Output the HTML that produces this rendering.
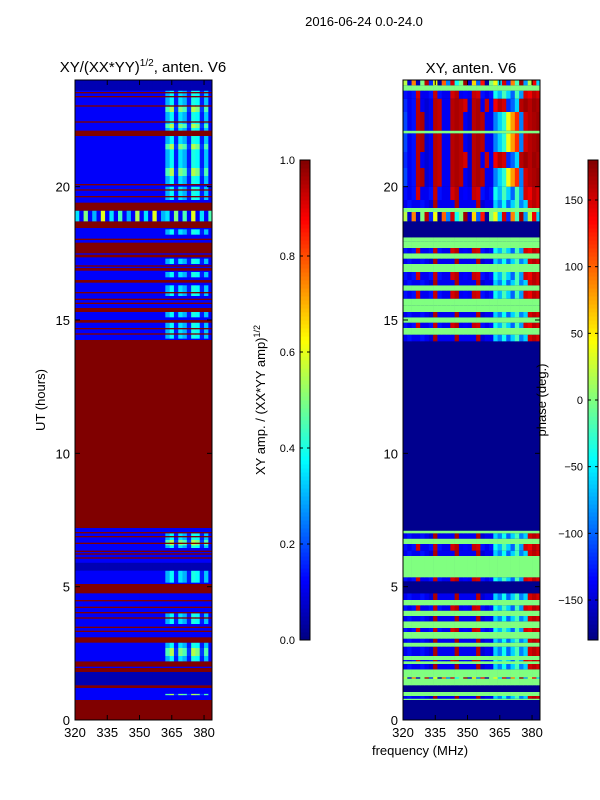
<!DOCTYPE html>
<html><head><meta charset="utf-8">
<style>
body{margin:0;background:#fff;font-family:"Liberation Sans",sans-serif;}
svg{display:block}
text{font-family:"Liberation Sans",sans-serif;fill:#000}
</style></head>
<body>
<svg id="fig" width="600" height="800">
<rect width="600" height="800" fill="#fff"/>
<text x="364" y="26" font-size="13" text-anchor="middle">2016-06-24 0.0-24.0</text>
<text x="143" y="72" font-size="15" text-anchor="middle">XY/(XX*YY)<tspan font-size="10" dy="-6">1/2</tspan><tspan dy="6">, anten. V6</tspan></text>
<text x="471" y="73" font-size="15" text-anchor="middle">XY, anten. V6</text>
<text transform="translate(45,400) rotate(-90)" font-size="13" text-anchor="middle">UT (hours)</text>
<text x="420" y="755" font-size="13" text-anchor="middle">frequency (MHz)</text>
<text transform="translate(265,400) rotate(-90)" font-size="13" text-anchor="middle">XY amp. / (XX*YY amp)<tspan font-size="9" dy="-5">1/2</tspan></text>
<g id="ampPlot"></g>
<g id="phasePlot"></g>
<text transform="translate(546,400) rotate(-90)" font-size="13" text-anchor="middle">phase (deg.)</text>
<g id="cb1"></g>
<g id="cb2"></g>
<g id="axes"></g>
</svg>
<script>
// ---------- data ----------
const freqTicks = [320, 335, 350, 365, 380];
const hourTicks = [0, 5, 10, 15, 20];
const ampCbTicks = [0.0, 0.2, 0.4, 0.6, 0.8, 1.0];
const phaseCbTicks = [-150, -100, -50, 0, 50, 100, 150];
const freqBins = [320,322,324,326,328,330,332,334,336,338,340,342,344,346,348,350,352,354,356,358,360,362,364,366,368,370,372,374,376,378,380,382,384];
// amplitude column profiles (0..1)
const ampProfR  = [1,1,1,1,1,1,1,1,1,1,1,1,1,1,1,1,1,1,1,1,1,1,1,1,1,1,1,1,1,1,1,1];
const ampProfB  = [.12,.12,.12,.12,.12,.12,.12,.12,.12,.12,.12,.12,.12,.12,.12,.12,.12,.12,.12,.12,.12,.12,.12,.12,.12,.12,.12,.12,.12,.12,.12,.12];
const ampProfD  = [.05,.05,.05,.05,.05,.05,.05,.05,.05,.05,.05,.05,.05,.05,.05,.05,.05,.05,.05,.05,.05,.05,.05,.05,.05,.05,.05,.05,.05,.05,.05,.05];
const ampProfC  = [.12,.12,.12,.12,.12,.12,.12,.12,.12,.12,.12,.12,.12,.12,.12,.12,.12,.12,.12,.12,.12,.3,.38,.15,.35,.3,.15,.4,.38,.15,.32,.12];
const ampProfY  = [.12,.12,.12,.12,.12,.12,.12,.12,.12,.12,.12,.12,.12,.12,.12,.12,.12,.12,.12,.12,.12,.45,.55,.18,.5,.45,.18,.55,.5,.18,.45,.12];
const ampProfS  = [.35,.12,.5,.12,.3,.12,.6,.12,.35,.12,.45,.12,.3,.12,.55,.12,.35,.12,.6,.12,.3,.35,.12,.5,.12,.45,.12,.6,.12,.35,.12,.45];
const ampProfiles = {R:ampProfR,B:ampProfB,D:ampProfD,C:ampProfC,Y:ampProfY,S:ampProfS};
// amplitude bands (later bands drawn over earlier)
const ampStart = [0,0.75,0.75,1.3,0.93,1.2,1.8,1.95,2.2,2.4,2.9,3.3,3.45,3.6,3.8,4.0,4.2,4.45,4.75,5.15,5.6,5.9,6.05,6.2,6.3,6.45,6.55,6.6,6.85,7.0,7.2, 14.25,14.3,14.45,14.65,14.9,15.1,15.3,15.6,15.75,15.9,16.0,16.4,16.6,16.85,17.0,17.1,17.35,17.5,18.0,18.2,18.45,18.7,19.1,19.5,19.6,19.85,20.05,20.1,20.4,21.4,21.9,22.2,22.4,22.8,23.0,23.35,23.5,23.6];
const ampEnd   = [0.75,7.2,1.2,1.8,0.98,1.3,2.2,2.0,2.9,2.7,3.1,3.35,3.5,4.0,3.85,4.05,4.25,4.5,5.1,5.6,5.9,6.5,6.1,6.25,6.35,7.0,6.75,6.65,6.9,7.05,14.25, 24,14.9,14.5,14.7,15.0,15.3,15.45,15.65,15.8,16.3,16.05,16.5,16.8,16.95,17.05,17.3,17.45,17.9,18.05,18.4,18.7,19.1,19.4,20.0,19.65,19.9,20.1,23.6,20.7,21.6,22.1,22.35,22.45,23.0,23.05,23.4,23.55,24];
const ampProf  = ["R","B","B","D","Y","R","R","B","C","Y","R","R","R","C","R","R","R","R","R","C","D","B","R","R","R","C","Y","R","R","R","R", "B","C","R","R","R","C","R","R","R","C","R","R","C","R","R","C","R","R","R","C","R","S","R","C","R","R","R","C","Y","Y","R","Y","R","Y","R","R","R","D"];
// phase column profiles (degrees)
const phProfN = [-175,-175,-175,-175,-175,-175,-175,-175,-175,-175,-175,-175,-175,-175,-175,-175,-175,-175,-175,-175,-175,-175,-175,-175,-175,-175,-175,-175,-175,-175,-175,-175];
const phProfG = [0,0,0,0,0,0,0,0,0,0,0,0,0,0,0,0,0,0,0,0,0,0,0,0,0,0,0,0,0,0,0,0];
const phProfM = [-130,-140,-130,150,-140,-140,-130,155,-130,-140,-140,150,160,-140,-135,-140,155,150,-130,-140,-130,-40,-70,-20,-60,-100,-20,-80,150,140,160,150];
const phProfB = [-140,-130,-140,-140,-130,-140,-150,165,-140,-140,-140,-140,165,-140,-140,-140,-140,160,-150,-140,-140,-60,-90,-40,-100,-60,-20,-90,-60,150,160,150];
const phProfU = [-110,-140,-130,160,165,-150,-140,160,155,-140,-140,160,165,160,-140,-150,160,165,160,-140,-140,-90,-60,-30,40,80,120,-90,150,160,165,170];
const phProfH = [-120,-140,-130,160,-140,-150,-140,160,155,-140,-140,160,165,160,150,-150,160,165,-140,155,-140,140,160,150,-120,-100,-60,160,170,160,170,165];
const phProfS = [20,-150,90,-160,0,160,-120,40,-170,100,-90,150,-40,0,170,-150,60,-100,130,-170,0,40,-60,150,-120,90,-20,170,-80,20,140,-60];
const phProfiles = {N:phProfN,G:phProfG,M:phProfM,B:phProfB,U:phProfU,H:phProfH,S:phProfS};
// phase bands
const phStart = [0,0.75,0.8,0.9,1.05,1.3,1.55,1.9,2.1,2.2,2.4,2.75,2.9,3.05,3.3,3.45,3.7,3.9,4.1,4.3,4.5,4.75,5.2,5.35,5.55,6.0,6.15,6.35,6.6,6.8,7.0,7.1,7.2,14.2,14.45,14.7,14.9,15.1,15.3,15.55,15.8,16.1,16.3,16.5,16.8,17.1,17.3,17.5,17.7,17.95,18.1,18.7,19.05,19.2,19.5,20.0,20.7,21.3,22.0,22.1,22.8,23.3,23.6,23.8];
const phEnd   = [0.75,0.8,0.9,1.05,1.3,1.9,1.6,2.1,2.4,2.25,2.75,2.9,3.05,3.3,3.45,3.7,3.9,4.1,4.3,4.5,4.75,5.2,5.35,5.55,6.0,6.15,6.35,6.6,6.8,7.0,7.1,7.2,14.2,14.45,14.7,14.9,15.1,15.3,15.55,15.8,16.1,16.3,16.5,16.8,17.1,17.3,17.5,17.7,17.95,18.1,18.7,19.05,19.2,19.5,20.0,20.7,21.3,22.0,22.1,22.8,23.3,23.6,23.8,24];
const phProf  = ["N","G","B","G","N","G","S","B","G","M","B","G","B","G","M","G","B","G","M","G","B","N","M","G","G","G","B","M","G","B","G","N","N","B","G","M","G","B","G","G","M","G","B","M","G","B","G","M","G","G","N","S","G","B","M","U","H","U","G","U","H","M","G","S"];

// ---------- helpers ----------
const NS = "http://www.w3.org/2000/svg";
function jet(t){
  t=Math.max(0,Math.min(1,t));
  const c=x=>Math.round(255*Math.max(0,Math.min(1,x)));
  const r=c(1.5-Math.abs(4*t-3)), g=c(1.5-Math.abs(4*t-2)), b=c(1.5-Math.abs(4*t-1));
  return `rgb(${r},${g},${b})`;
}
function mk(tag,attrs,parent){const e=document.createElementNS(NS,tag);for(const k in attrs)e.setAttribute(k,attrs[k]);parent.appendChild(e);return e;}
const fMin=320,fMax=383.7,hMin=0,hMax=24;
function makeX(x0,x1){return f=>x0+(f-fMin)/(fMax-fMin)*(x1-x0);}
function makeY(y0,y1){return h=>y0-(h-hMin)/(hMax-hMin)*(y0-y1);}

function drawHeat(g,x0,x1,starts,ends,profs,profiles,norm){
  const X=makeX(x0,x1),Y=makeY(720,80);
  mk("rect",{x:x0,y:80,width:x1-x0,height:640,fill:jet(norm(profiles[profs[0]][0]))},g);
  for(let i=0;i<starts.length;i++){
    const p=profiles[profs[i]];
    const yt=Y(ends[i]),yb=Y(starts[i]);
    for(let j=0;j<p.length;j++){
      const xa=X(freqBins[j]),xb=Math.min(x1,X(freqBins[j+1]));
      if(xa>=x1)continue;
      const r=mk("rect",{x:xa.toFixed(2),y:yt.toFixed(2),width:(xb-xa+0.3).toFixed(2),height:(yb-yt).toFixed(2),fill:jet(norm(p[j]))},g);
      
      
    }
  }
}
function drawAxes(g,x0,x1){
  const X=makeX(x0,x1),Y=makeY(720,80);
  mk("rect",{x:x0,y:80,width:x1-x0,height:640,fill:"none",stroke:"#000","stroke-width":1},g);
  freqTicks.forEach(f=>{
    const x=X(f);
    mk("line",{x1:x,y1:720,x2:x,y2:715,stroke:"#000"},g);
    mk("line",{x1:x,y1:80,x2:x,y2:85,stroke:"#000"},g);
    const t=mk("text",{x:x,y:737,"font-size":13,"text-anchor":"middle"},g);t.textContent=f;
    
    
  });
  hourTicks.forEach(h=>{
    const y=Y(h);
    mk("line",{x1:x0,y1:y,x2:x0+5,y2:y,stroke:"#000"},g);
    mk("line",{x1:x1,y1:y,x2:x1-5,y2:y,stroke:"#000"},g);
    const t=mk("text",{x:x0-5,y:y+5,"font-size":13,"text-anchor":"end"},g);t.textContent=h;
    
    
  });
}
function drawCb(g,x,ticks,vmin,vmax,fmt){
  const n=120;
  for(let i=0;i<n;i++){
    const y=640-(i+1)*480/n;
    mk("rect",{x:x,y:y.toFixed(2),width:10,height:(480/n+0.5).toFixed(2),fill:jet((i+0.5)/n)},g);
  }
  mk("rect",{x:x,y:160,width:10,height:480,fill:"none",stroke:"#000"},g);
  ticks.forEach(v=>{
    const y=640-(v-vmin)/(vmax-vmin)*480;
    mk("line",{x1:x,y1:y,x2:x+3,y2:y,stroke:"#000"},g);
    mk("line",{x1:x+10,y1:y,x2:x+7,y2:y,stroke:"#000"},g);
    const t=mk("text",{x:x-5,y:y+4,"font-size":11,"text-anchor":"end"},g);t.textContent=fmt(v);
    
    
  });
}
drawHeat(document.getElementById("ampPlot"),75,212,ampStart,ampEnd,ampProf,ampProfiles,v=>v);
drawHeat(document.getElementById("phasePlot"),403,540,phStart,phEnd,phProf,phProfiles,v=>(v+180)/360);
const ax=document.getElementById("axes");
drawAxes(ax,75,212);drawAxes(ax,403,540);
drawCb(document.getElementById("cb1"),300,ampCbTicks,0,1,v=>v.toFixed(1));
drawCb(document.getElementById("cb2"),588,phaseCbTicks,-180,180,v=>v<0?"\u2212"+(-v):String(v));
</script>
</body></html>
